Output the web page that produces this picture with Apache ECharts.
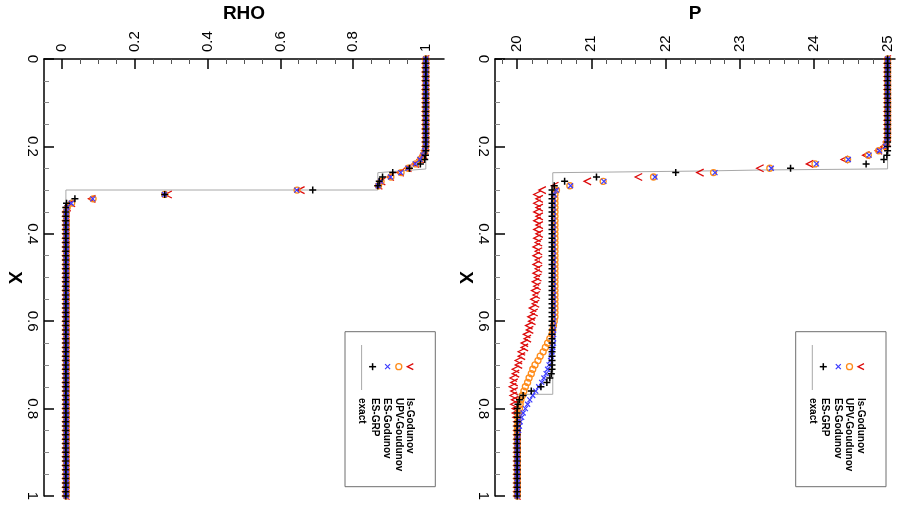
<!DOCTYPE html>
<html><head><meta charset="utf-8">
<script src="https://cdn.jsdelivr.net/npm/echarts@6/dist/echarts.min.js"></script>
<style>html,body{margin:0;padding:0;background:#fff}#c{width:901px;height:506px}</style>
</head><body><div id="c"></div>
<script>
// ---------- data ----------
const X = [0,0.01,0.02,0.03,0.04,0.05,0.06,0.07,0.08,0.09,
0.1,0.11,0.12,0.13,0.14,0.15,0.16,0.17,0.18,0.19,
0.2,0.21,0.22,0.23,0.24,0.25,0.26,0.27,0.28,0.29,
0.3,0.31,0.32,0.33,0.34,0.35,0.36,0.37,0.38,0.39,
0.4,0.41,0.42,0.43,0.44,0.45,0.46,0.47,0.48,0.49,
0.5,0.51,0.52,0.53,0.54,0.55,0.56,0.57,0.58,0.59,
0.6,0.61,0.62,0.63,0.64,0.65,0.66,0.67,0.68,0.69,
0.7,0.71,0.72,0.73,0.74,0.75,0.76,0.77,0.78,0.79,
0.8,0.81,0.82,0.83,0.84,0.85,0.86,0.87,0.88,0.89,
0.9,0.91,0.92,0.93,0.94,0.95,0.96,0.97,0.98,0.99,
1];

const pLs = [25,25,25,25,25,25,25,25,25,25,
25,25,25,25,25,25,25,25,25,24.99,
24.96,24.88,24.71,24.42,23.95,23.28,22.47,21.64,20.95,20.51,
20.34,20.27,20.30,20.27,20.30,20.27,20.30,20.27,20.30,20.27,
20.30,20.27,20.29,20.26,20.29,20.26,20.29,20.26,20.29,20.26,
20.28,20.25,20.27,20.24,20.26,20.23,20.25,20.21,20.23,20.19,
20.20,20.16,20.17,20.13,20.14,20.10,20.10,20.06,20.06,20.02,
20.02,19.98,19.98,19.95,19.96,19.94,19.96,19.95,19.97,19.96,
19.98,19.98,19.99,20,20,20,20,20,20,20,
20,20,20,20,20,20,20,20,20,20,
20];

const pUPV = [25,25,25,25,25,25,25,25,25,25,
25,25,25,25,25,25,25,25,25,24.99,
24.97,24.88,24.74,24.46,24.02,23.41,22.65,21.84,21.16,20.71,
20.53,20.51,20.51,20.51,20.51,20.51,20.51,20.51,20.51,20.51,
20.51,20.51,20.51,20.51,20.51,20.51,20.51,20.51,20.51,20.51,
20.51,20.51,20.51,20.51,20.51,20.51,20.51,20.51,20.51,20.51,
20.50,20.49,20.48,20.47,20.44,20.41,20.38,20.35,20.31,20.28,
20.24,20.21,20.19,20.16,20.14,20.11,20.09,20.07,20.05,20.04,
20.03,20.02,20.01,20.01,20,20,20,20,20,20,
20,20,20,20,20,20,20,20,20,20,
20];

const pES = [25,25,25,25,25,25,25,25,25,25,
25,25,25,25,25,25,25,25,25,24.99,
24.97,24.89,24.75,24.47,24.04,23.43,22.67,21.86,21.17,20.72,
20.53,20.50,20.49,20.49,20.49,20.49,20.49,20.49,20.49,20.49,
20.49,20.49,20.49,20.49,20.49,20.49,20.49,20.49,20.49,20.49,
20.49,20.49,20.49,20.49,20.49,20.49,20.49,20.49,20.49,20.49,
20.49,20.49,20.49,20.49,20.49,20.49,20.48,20.47,20.46,20.45,
20.43,20.41,20.39,20.36,20.33,20.29,20.25,20.21,20.17,20.14,
20.11,20.08,20.06,20.04,20.03,20.02,20.01,20,20,20,
20,20,20,20,20,20,20,20,20,20,
20];

const pGRP = [25,25,25,25,25,25,25,25,25,25,
25,25,25,25,25,25,25,25,25,25,
25,25,24.99,24.95,24.71,23.69,22.14,21.07,20.64,20.50,
20.47,20.47,20.47,20.47,20.47,20.47,20.47,20.47,20.47,20.47,
20.47,20.47,20.47,20.47,20.47,20.47,20.47,20.47,20.47,20.47,
20.47,20.47,20.47,20.47,20.47,20.47,20.47,20.47,20.47,20.47,
20.47,20.47,20.47,20.47,20.47,20.47,20.47,20.47,20.47,20.47,
20.47,20.47,20.46,20.44,20.40,20.32,20.19,20.08,20.03,20.01,
20,20,20,20,20,20,20,20,20,20,
20,20,20,20,20,20,20,20,20,20,
20];

const rLs = [1,1,1,1,1,1,1,1,1,1,
1,1,1,1,1,1,1,1,1,1,
1,0.998,0.994,0.986,0.972,0.951,0.930,0.903,0.879,0.871,
0.657,0.292,0.082,0.026,0.014,0.011,0.011,0.011,0.011,0.011,
0.011,0.011,0.011,0.011,0.011,0.011,0.011,0.011,0.011,0.011,
0.011,0.011,0.011,0.011,0.011,0.011,0.011,0.011,0.011,0.011,
0.011,0.011,0.011,0.011,0.011,0.011,0.011,0.011,0.011,0.011,
0.011,0.011,0.011,0.011,0.011,0.011,0.011,0.011,0.011,0.011,
0.011,0.011,0.011,0.011,0.011,0.011,0.011,0.011,0.011,0.011,
0.011,0.011,0.011,0.011,0.011,0.011,0.011,0.011,0.011,0.011,
0.011];

const rUPV = [1,1,1,1,1,1,1,1,1,1,
1,1,1,1,1,1,1,1,1,1,
1,0.998,0.993,0.985,0.972,0.952,0.932,0.904,0.877,0.870,
0.646,0.282,0.085,0.026,0.014,0.011,0.011,0.011,0.011,0.011,
0.011,0.011,0.011,0.011,0.011,0.011,0.011,0.011,0.011,0.011,
0.011,0.011,0.011,0.011,0.011,0.011,0.011,0.011,0.011,0.011,
0.011,0.011,0.011,0.011,0.011,0.011,0.011,0.011,0.011,0.011,
0.011,0.011,0.011,0.011,0.011,0.011,0.011,0.011,0.011,0.011,
0.011,0.011,0.011,0.011,0.011,0.011,0.011,0.011,0.011,0.011,
0.011,0.011,0.011,0.011,0.011,0.011,0.011,0.011,0.011,0.011,
0.011];

const rES = [1,1,1,1,1,1,1,1,1,1,
1,1,1,1,1,1,1,1,1,1,
1,0.997,0.992,0.984,0.971,0.951,0.931,0.903,0.876,0.869,
0.645,0.281,0.084,0.025,0.013,0.011,0.011,0.011,0.011,0.011,
0.011,0.011,0.011,0.011,0.011,0.011,0.011,0.011,0.011,0.011,
0.011,0.011,0.011,0.011,0.011,0.011,0.011,0.011,0.011,0.011,
0.011,0.011,0.011,0.011,0.011,0.011,0.011,0.011,0.011,0.011,
0.011,0.011,0.011,0.011,0.011,0.011,0.011,0.011,0.011,0.011,
0.011,0.011,0.011,0.011,0.011,0.011,0.011,0.011,0.011,0.011,
0.011,0.011,0.011,0.011,0.011,0.011,0.011,0.011,0.011,0.011,
0.011];

const rGRP = [1,1,1,1,1,1,1,1,1,1,
1,1,1,1,1,1,1,1,1,1,
1,1,0.999,0.997,0.985,0.955,0.909,0.881,0.872,0.868,
0.689,0.282,0.035,0.012,0.010,0.010,0.010,0.010,0.010,0.010,
0.010,0.010,0.010,0.010,0.010,0.010,0.010,0.010,0.010,0.010,
0.010,0.010,0.010,0.010,0.010,0.010,0.010,0.010,0.010,0.010,
0.010,0.010,0.010,0.010,0.010,0.010,0.010,0.010,0.010,0.010,
0.010,0.010,0.010,0.010,0.010,0.010,0.010,0.010,0.010,0.010,
0.010,0.010,0.010,0.010,0.010,0.010,0.010,0.010,0.010,0.010,
0.010,0.010,0.010,0.010,0.010,0.010,0.010,0.010,0.010,0.010,
0.010];

const exactPX = [0, 0.2515, 0.254, 0.2563, 0.2602, 0.7673, 0.7673, 1];
const exactP  = [25, 25, 23.3, 22.5, 20.48, 20.48, 20, 20];
const exactRX = [0, 0.2517, 0.2602, 0.2998, 0.2998, 1];
const exactR  = [1, 1, 0.868, 0.868, 0.0102, 0.0102];

const pTicks = [20, 21, 22, 23, 24, 25];
const pMinor = [19.8, 20.2, 20.4, 20.6, 20.8, 21.2, 21.4, 21.6, 21.8, 22.2, 22.4, 22.6, 22.8,
                23.2, 23.4, 23.6, 23.8, 24.2, 24.4, 24.6, 24.8];
const rTicks = [0, 0.2, 0.4, 0.6, 0.8, 1];
const rMinor = [0.05, 0.1, 0.15, 0.25, 0.3, 0.35, 0.45, 0.5, 0.55, 0.65, 0.7, 0.75, 0.85, 0.9, 0.95];

const legendNames = ['ls-Godunov', 'UPV-Goudunov', 'ES-Godunov', 'ES-GRP', 'exact'];

// ---------- styling ----------
const FONT = '"Liberation Sans", Arial, Helvetica, sans-serif';
const RED = '#dd0a0a', ORANGE = '#ff8c1a', BLUE = '#3b3bff', BLACK = '#000000', GRAY = '#a8a8a8';
const SYM_CHEV = 'path://M10,0 L0,6 L10,12';
const SYM_X = 'path://M0,0 L10,10 M10,0 L0,10';
const SYM_PLUS = 'path://M5,0 L5,10 M0,5 L10,5';

function pairs(vals, xs) { return xs.map((x, i) => [vals[i], x]); }

function markerSeries(name, vals, axisIdx, yIdx, symbol, size, color, width) {
  return {
    name, type: 'scatter', xAxisIndex: axisIdx, yAxisIndex: yIdx,
    data: pairs(vals, X), symbol, symbolSize: size,
    itemStyle: { color: 'none', borderColor: color, borderWidth: width, opacity: 1 },
    emphasis: { disabled: true }, silent: true, animation: false
  };
}
function exactSeries(vals, xs, axisIdx, yIdx) {
  return {
    name: 'exact', type: 'line', xAxisIndex: axisIdx, yAxisIndex: yIdx,
    data: pairs(vals, xs), symbol: 'none', lineStyle: { color: GRAY, width: 1 },
    silent: true, animation: false, z: 1
  };
}

function topAxes(gi, min, max, ticks, minor, name) {
  return [{
    gridIndex: gi, type: 'value', position: 'top', min, max,
    axisLine: { show: true, onZero: false, lineStyle: { color: '#000', width: 1.5 } },
    axisTick: { show: true, inside: true, length: 10, customValues: ticks, lineStyle: { color: '#000', width: 1.5 } },
    axisLabel: { show: true, customValues: ticks, rotate: -90, margin: 7, fontSize: 15, fontFamily: FONT, color: '#000' },
    splitLine: { show: false },
    name, nameLocation: 'middle', nameGap: 36, nameRotate: 0,
    nameTextStyle: { fontWeight: 'bold', fontSize: 19, fontFamily: FONT, color: '#000' }
  }, {
    gridIndex: gi, type: 'value', position: 'top', min, max,
    axisLine: { show: false, onZero: false },
    axisTick: { show: true, inside: true, length: 5, customValues: minor, lineStyle: { color: '#555', width: 1 } },
    axisLabel: { show: false },
    splitLine: { show: false }
  }];
}
function leftAxis(gi) {
  return {
    gridIndex: gi, type: 'value', position: 'left', min: 0, max: 1, interval: 0.2, inverse: true,
    axisLine: { show: true, onZero: false, lineStyle: { color: '#000', width: 1.5 } },
    axisTick: { show: true, inside: true, length: 10, lineStyle: { color: '#000', width: 1.5 } },
    minorTick: { show: true, splitNumber: 4, length: 5, lineStyle: { color: '#888', width: 1 } },
    axisLabel: { show: true, rotate: -90, margin: 4, fontSize: 15, fontFamily: FONT, color: '#000' },
    splitLine: { show: false }, minorSplitLine: { show: false },
    name: 'X', nameLocation: 'middle', nameGap: 17, nameRotate: -90,
    nameTextStyle: { fontWeight: 'bold', fontSize: 19, fontFamily: FONT, color: '#000' }
  };
}

function legendGroup(ox) {
  const my = 366.7;
  const texts = [860.5, 849, 837.3, 825, 812.3];
  const children = [
    { type: 'rect', shape: { x: 795.7, y: 331.7, width: 90.3, height: 155 },
      style: { fill: '#fff', stroke: '#6e6e6e', lineWidth: 1 } },
    { type: 'polyline', shape: { points: [[864, my - 3], [858, my], [864, my + 3]] },
      style: { stroke: RED, lineWidth: 1.3, fill: null } },
    { type: 'circle', shape: { cx: 849.5, cy: my, r: 3 }, style: { fill: 'none', stroke: ORANGE, lineWidth: 1.3 } },
    { type: 'line', shape: { x1: 835.8, y1: my - 2.5, x2: 840.8, y2: my + 2.5 }, style: { stroke: BLUE, lineWidth: 1.2 } },
    { type: 'line', shape: { x1: 840.8, y1: my - 2.5, x2: 835.8, y2: my + 2.5 }, style: { stroke: BLUE, lineWidth: 1.2 } },
    { type: 'line', shape: { x1: 823.3, y1: my - 3.5, x2: 823.3, y2: my + 3.5 }, style: { stroke: BLACK, lineWidth: 1.5 } },
    { type: 'line', shape: { x1: 819.8, y1: my, x2: 826.8, y2: my }, style: { stroke: BLACK, lineWidth: 1.5 } },
    { type: 'line', shape: { x1: 812.3, y1: 345, x2: 812.3, y2: 390 }, style: { stroke: GRAY, lineWidth: 1 } }
  ];
  legendNames.forEach((n, i) => {
    children.push({ type: 'text', x: texts[i], y: 398, rotation: -Math.PI / 2,
      style: { text: n, fontSize: 10, fontWeight: 'bold', fontFamily: FONT, fill: '#000', align: 'left', verticalAlign: 'middle' } });
  });
  return { type: 'group', x: ox, y: 0, silent: true, children };
}

const chart = echarts.init(document.getElementById('c'), null, { renderer: 'canvas' });
const option = {
  animation: false,
  backgroundColor: '#fff',
  grid: [
    { left: 44, top: 59, width: 400, height: 437, outerBoundsMode: 'none' },
    { left: 495, top: 59, width: 400, height: 437, outerBoundsMode: 'none' }
  ],
  xAxis: [
    ...topAxes(0, -0.05, 1.05, rTicks, rMinor, 'RHO'),
    ...topAxes(1, 19.7, 25.1, pTicks, pMinor, 'P')
  ],
  yAxis: [leftAxis(0), leftAxis(1)],
  series: [
    exactSeries(exactR, exactRX, 0, 0),
    markerSeries('ls-Godunov', rLs, 0, 0, SYM_CHEV, [7, 7], RED, 1.3),
    markerSeries('UPV-Goudunov', rUPV, 0, 0, 'circle', 6, ORANGE, 1.3),
    markerSeries('ES-Godunov', rES, 0, 0, SYM_X, 5, BLUE, 1.2),
    markerSeries('ES-GRP', rGRP, 0, 0, SYM_PLUS, 7, BLACK, 1.5),
    exactSeries(exactP, exactPX, 2, 1),
    markerSeries('ls-Godunov', pLs, 2, 1, SYM_CHEV, [7, 7], RED, 1.3),
    markerSeries('UPV-Goudunov', pUPV, 2, 1, 'circle', 6, ORANGE, 1.3),
    markerSeries('ES-Godunov', pES, 2, 1, SYM_X, 5, BLUE, 1.2),
    markerSeries('ES-GRP', pGRP, 2, 1, SYM_PLUS, 7, BLACK, 1.5)
  ],
  graphic: [legendGroup(-450.7), legendGroup(0)]
};
chart.setOption(option);
</script>
</body></html>
